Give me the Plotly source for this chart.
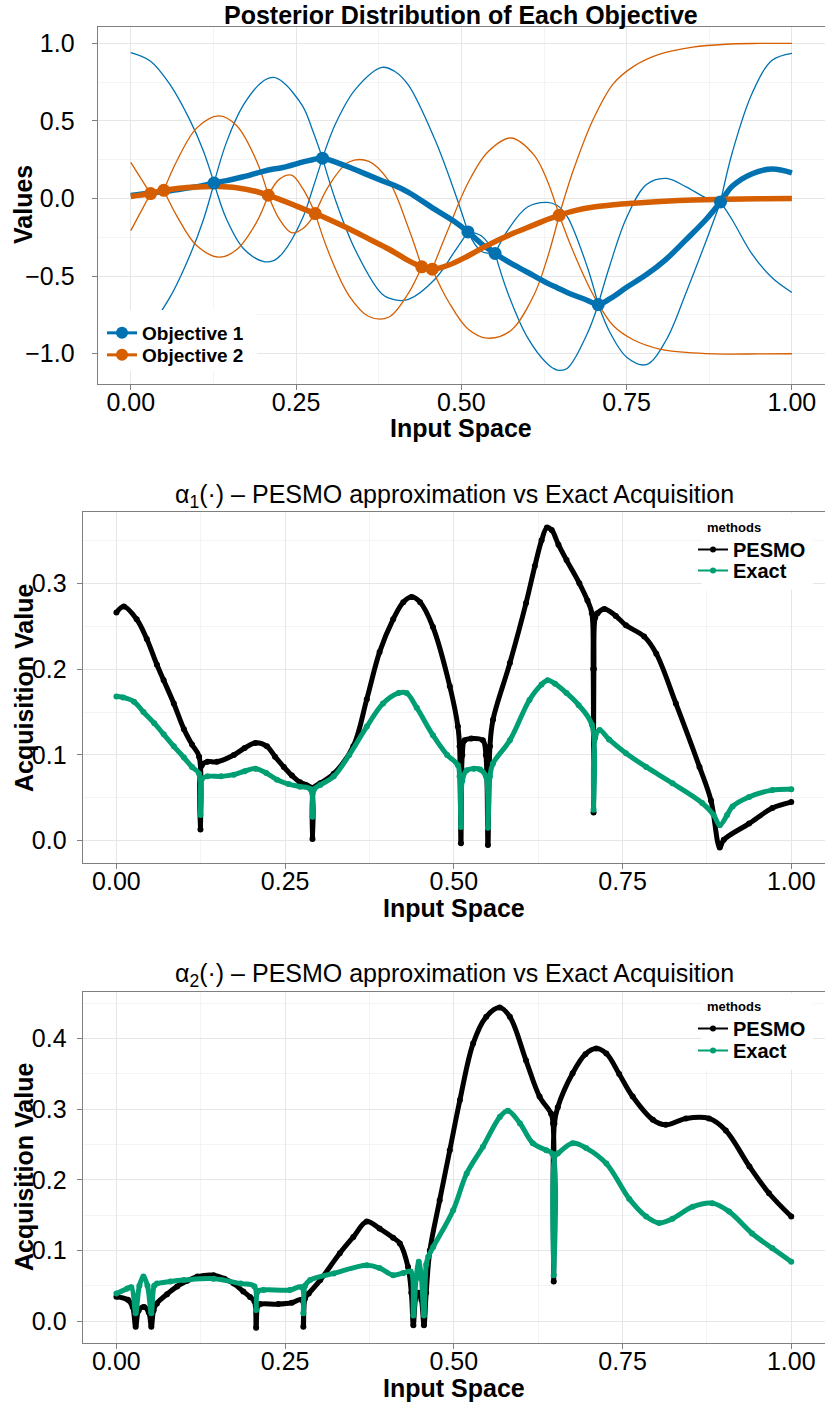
import plotly.graph_objects as go

# ---------------- DATA ----------------
# Panel 1: posterior mean and 2-sd half-width of each objective
obj1_x = [0.000, 0.030, 0.060, 0.090, 0.110, 0.126, 0.145, 0.170, 0.200, 0.216, 0.230, 0.260, 0.275, 0.290,
          0.310, 0.340, 0.380, 0.400, 0.420, 0.460, 0.490, 0.510, 0.530, 0.551, 0.570, 0.600, 0.630, 0.645,
          0.660, 0.690, 0.707, 0.725, 0.750, 0.780, 0.810, 0.840, 0.870, 0.892, 0.910, 0.940, 0.970, 1.000]
obj1_mean = [0.020, 0.035, 0.050, 0.070, 0.085, 0.100, 0.115, 0.140, 0.175, 0.190, 0.200, 0.235, 0.250, 0.260,
             0.235, 0.185, 0.115, 0.082, 0.040, -0.070, -0.150, -0.215, -0.290, -0.354, -0.405, -0.475, -0.545, -0.575,
             -0.605, -0.655, -0.683, -0.645, -0.572, -0.490, -0.390, -0.265, -0.135, -0.022, 0.080, 0.160, 0.190, 0.165]
obj1_width = [0.920, 0.850, 0.680, 0.430, 0.220, 0.000, 0.250, 0.460, 0.580, 0.590, 0.550, 0.360, 0.190, 0.000,
              0.250, 0.520, 0.730, 0.735, 0.690, 0.450, 0.190, 0.000, 0.050, 0.000, 0.200, 0.420, 0.520, 0.530,
              0.490, 0.220, 0.000, 0.220, 0.450, 0.580, 0.520, 0.340, 0.140, 0.000, 0.220, 0.520, 0.700, 0.770]

obj2_x = [0.000, 0.015, 0.030, 0.040, 0.050, 0.070, 0.100, 0.133, 0.160, 0.190, 0.208, 0.225, 0.243, 0.260,
          0.279, 0.300, 0.330, 0.360, 0.390, 0.420, 0.440, 0.448, 0.456, 0.480, 0.510, 0.540, 0.575, 0.610,
          0.630, 0.648, 0.670, 0.700, 0.730, 0.760, 0.800, 0.850, 0.900, 0.950, 1.000]
obj2_mean = [0.013, 0.022, 0.032, 0.043, 0.053, 0.065, 0.075, 0.077, 0.070, 0.045, 0.021, -0.005, -0.035, -0.065,
             -0.097, -0.135, -0.195, -0.260, -0.325, -0.400, -0.440, -0.450, -0.455, -0.430, -0.370, -0.300, -0.230, -0.170,
             -0.135, -0.108, -0.080, -0.055, -0.040, -0.030, -0.020, -0.010, -0.004, -0.001, 0.000]
obj2_width = [0.220, 0.110, 0.000, 0.012, 0.000, 0.180, 0.380, 0.455, 0.400, 0.200, 0.000, 0.130, 0.185, 0.130,
              0.000, 0.220, 0.430, 0.500, 0.440, 0.210, 0.000, 0.006, 0.000, 0.230, 0.470, 0.600, 0.620, 0.450,
              0.250, 0.000, 0.270, 0.570, 0.780, 0.880, 0.950, 0.985, 0.998, 1.000, 1.000]

obj1_obs_x = [0.126, 0.290, 0.510, 0.551, 0.707, 0.892]
obj1_obs_y = [0.100, 0.260, -0.215, -0.354, -0.683, -0.022]
obj2_obs_x = [0.030, 0.050, 0.208, 0.279, 0.440, 0.456, 0.648]
obj2_obs_y = [0.032, 0.053, 0.021, -0.097, -0.440, -0.455, -0.108]

# Panel 2: alpha_1 acquisition
a1_pesmo_x = [0.000, 0.011, 0.030, 0.045, 0.060, 0.070, 0.085, 0.100, 0.112, 0.1225,
              0.1245, 0.1265, 0.135, 0.149, 0.174, 0.190, 0.206, 0.223, 0.235, 0.248,
              0.260, 0.272, 0.2875, 0.2905, 0.293, 0.302, 0.322, 0.351, 0.371, 0.390,
              0.410, 0.425, 0.4375, 0.450, 0.469, 0.494, 0.506, 0.5085, 0.5105, 0.5125,
              0.516, 0.526, 0.543, 0.5475, 0.5505, 0.5535, 0.558, 0.583, 0.607, 0.620,
              0.630, 0.638, 0.645, 0.655, 0.667, 0.686, 0.698, 0.7045, 0.7065, 0.707,
              0.7075, 0.7095, 0.713, 0.723, 0.740, 0.755, 0.782, 0.800, 0.829, 0.864,
              0.881, 0.894, 0.900, 0.9375, 0.972, 1.000]
a1_pesmo = [0.266, 0.273, 0.258, 0.235, 0.205, 0.187, 0.160, 0.130, 0.112, 0.098,
            0.013, 0.088, 0.092, 0.092, 0.100, 0.108, 0.114, 0.110, 0.098, 0.086,
            0.076, 0.068, 0.062, 0.002, 0.062, 0.067, 0.078, 0.110, 0.165, 0.220,
            0.258, 0.278, 0.284, 0.278, 0.249, 0.180, 0.133, 0.110, -0.003, 0.100,
            0.117, 0.119, 0.117, 0.100, -0.005, 0.110, 0.141, 0.207, 0.277, 0.320,
            0.350, 0.365, 0.362, 0.345, 0.327, 0.300, 0.280, 0.265, 0.200, 0.033,
            0.200, 0.260, 0.265, 0.270, 0.262, 0.251, 0.238, 0.218, 0.160, 0.086,
            0.047, -0.008, 0.001, 0.020, 0.038, 0.045]
a1_exact_x = [0.000, 0.010, 0.026, 0.040, 0.056, 0.070, 0.085, 0.100, 0.112, 0.1225,
              0.1245, 0.1265, 0.135, 0.155, 0.174, 0.190, 0.206, 0.222, 0.238, 0.255,
              0.272, 0.2875, 0.2905, 0.293, 0.302, 0.322, 0.345, 0.371, 0.395, 0.418,
              0.430, 0.445, 0.469, 0.490, 0.506, 0.5085, 0.5105, 0.5125, 0.519, 0.530,
              0.539, 0.5475, 0.5505, 0.5535, 0.558, 0.583, 0.612, 0.630, 0.639, 0.650,
              0.667, 0.685, 0.7045, 0.707, 0.7095, 0.716, 0.730, 0.755, 0.785, 0.824,
              0.868, 0.885, 0.894, 0.905, 0.913, 0.9375, 0.972, 1.000]
a1_exact = [0.168, 0.167, 0.162, 0.150, 0.137, 0.124, 0.110, 0.097, 0.086, 0.078,
            0.030, 0.072, 0.075, 0.075, 0.077, 0.081, 0.084, 0.079, 0.071, 0.066,
            0.063, 0.060, 0.028, 0.060, 0.065, 0.075, 0.100, 0.133, 0.160, 0.172,
            0.172, 0.155, 0.123, 0.100, 0.088, 0.075, 0.016, 0.070, 0.082, 0.084,
            0.083, 0.075, 0.015, 0.075, 0.090, 0.117, 0.164, 0.182, 0.187, 0.183,
            0.172, 0.158, 0.135, 0.036, 0.120, 0.129, 0.118, 0.102, 0.086, 0.067,
            0.044, 0.030, 0.018, 0.030, 0.040, 0.051, 0.059, 0.060]

# Panel 3: alpha_2 acquisition
a2_pesmo_x = [0.000, 0.017, 0.024, 0.0285, 0.033, 0.041, 0.048, 0.0517, 0.055, 0.060,
              0.075, 0.090, 0.105, 0.120, 0.144, 0.160, 0.174, 0.188, 0.198, 0.2045,
              0.207, 0.2095, 0.213, 0.240, 0.260, 0.2745, 0.277, 0.2795, 0.285, 0.302,
              0.331, 0.351, 0.371, 0.390, 0.410, 0.420, 0.432, 0.437, 0.440, 0.444,
              0.448, 0.452, 0.4557, 0.459, 0.4645, 0.479, 0.494, 0.509, 0.5285, 0.548,
              0.568, 0.583, 0.607, 0.627, 0.644, 0.647, 0.648, 0.649, 0.654, 0.676,
              0.695, 0.711, 0.726, 0.745, 0.765, 0.795, 0.814, 0.844, 0.878, 0.903,
              0.938, 0.967, 1.000]
a2_pesmo = [0.0345, 0.030, 0.020, -0.008, 0.015, 0.020, 0.012, -0.008, 0.015, 0.025,
            0.038, 0.049, 0.057, 0.063, 0.065, 0.060, 0.053, 0.042, 0.034, 0.028,
            -0.0095, 0.022, 0.024, 0.024, 0.026, 0.030, -0.008, 0.032, 0.039, 0.058,
            0.096, 0.119, 0.141, 0.131, 0.118, 0.110, 0.077, 0.040, -0.006, 0.035,
            0.040, 0.030, -0.006, 0.040, 0.100, 0.171, 0.242, 0.313, 0.393, 0.431,
            0.444, 0.431, 0.369, 0.318, 0.294, 0.280, 0.056, 0.280, 0.303, 0.351,
            0.378, 0.386, 0.379, 0.350, 0.318, 0.285, 0.278, 0.287, 0.287, 0.270,
            0.219, 0.181, 0.148]
a2_exact_x = [0.000, 0.016, 0.022, 0.0285, 0.034, 0.040, 0.046, 0.0517, 0.056, 0.060,
              0.080, 0.100, 0.144, 0.184, 0.2045, 0.207, 0.2095, 0.218, 0.257, 0.2745,
              0.277, 0.2795, 0.287, 0.322, 0.371, 0.390, 0.410, 0.425, 0.436, 0.440,
              0.444, 0.448, 0.452, 0.4557, 0.459, 0.462, 0.4695, 0.499, 0.519, 0.543,
              0.568, 0.580, 0.598, 0.617, 0.637, 0.646, 0.648, 0.650, 0.654, 0.676,
              0.696, 0.726, 0.760, 0.785, 0.804, 0.824, 0.854, 0.883, 0.908, 0.942,
              0.972, 1.000]
a2_exact = [0.039, 0.046, 0.048, 0.011, 0.050, 0.063, 0.050, 0.011, 0.050, 0.053,
            0.056, 0.058, 0.060, 0.053, 0.049, 0.0156, 0.042, 0.044, 0.044, 0.048,
            0.011, 0.050, 0.058, 0.0675, 0.079, 0.075, 0.065, 0.068, 0.070, 0.008,
            0.060, 0.084, 0.060, 0.008, 0.080, 0.091, 0.105, 0.157, 0.209, 0.247,
            0.289, 0.298, 0.280, 0.252, 0.242, 0.237, 0.065, 0.235, 0.2375, 0.252,
            0.245, 0.223, 0.173, 0.148, 0.139, 0.145, 0.162, 0.167, 0.155, 0.124,
            0.103, 0.084]

x_ticks = [0.0, 0.25, 0.5, 0.75, 1.0]

# ---------------- STYLE ----------------
W, H = 825, 1405
FONT = "Liberation Sans, Arial, sans-serif"
BLUE, ORANGE, GREEN, BLACK = "#0072B2", "#D55E00", "#009E73", "#000000"


def py(p):
    return 1 - p / H


def band(xs, mean, width, sign):
    zero_idx = [i for i, w in enumerate(width) if w == 0]
    cuts = sorted(set([0] + zero_idx + [len(xs) - 1]))
    bx, by = [], []
    for a, b in zip(cuts[:-1], cuts[1:]):
        for i in range(a, b + 1):
            bx.append(xs[i])
            by.append(mean[i] + sign * width[i])
        bx.append(None)
        by.append(None)
    return bx, by


fig = go.Figure()

# Panel 1 thin bands
for xs, m, w, col in [(obj1_x, obj1_mean, obj1_width, BLUE), (obj2_x, obj2_mean, obj2_width, ORANGE)]:
    for s in (1, -1):
        bx, by = band(xs, m, w, s)
        fig.add_trace(go.Scatter(x=bx, y=by, mode="lines", line=dict(color=col, width=1.3, shape="spline"),
                                 connectgaps=False, showlegend=False, hoverinfo="skip", xaxis="x", yaxis="y"))
# thick means
fig.add_trace(go.Scatter(x=obj1_x, y=obj1_mean, mode="lines", line=dict(color=BLUE, width=5.5, shape="spline"),
                         showlegend=False, xaxis="x", yaxis="y"))
fig.add_trace(go.Scatter(x=obj2_x, y=obj2_mean, mode="lines", line=dict(color=ORANGE, width=5.5, shape="spline"),
                         showlegend=False, xaxis="x", yaxis="y"))
fig.add_trace(go.Scatter(x=obj2_obs_x, y=obj2_obs_y, mode="markers", marker=dict(color=ORANGE, size=13),
                         showlegend=False, xaxis="x", yaxis="y"))
fig.add_trace(go.Scatter(x=obj1_obs_x, y=obj1_obs_y, mode="markers", marker=dict(color=BLUE, size=13),
                         showlegend=False, xaxis="x", yaxis="y"))
# legend entries panel 1 (one legend box per entry for exact spacing)
for name, col, lg in [("Objective 1", BLUE, "legend"), ("Objective 2", ORANGE, "legend4")]:
    fig.add_trace(go.Scatter(x=[None], y=[None], mode="lines+markers", name=f"<b>{name}</b>",
                             line=dict(color=col, width=3), marker=dict(color=col, size=12),
                             legend=lg, xaxis="x", yaxis="y"))

# Panels 2 and 3
for (px_, p, ex_, e, xa, ya, lgs) in [(a1_pesmo_x, a1_pesmo, a1_exact_x, a1_exact, "x2", "y2", ("legend2", "legend5")),
                                      (a2_pesmo_x, a2_pesmo, a2_exact_x, a2_exact, "x3", "y3", ("legend3", "legend6"))]:
    for xs, ys, col in [(px_, p, BLACK), (ex_, e, GREEN)]:
        fig.add_trace(go.Scatter(x=xs, y=ys, mode="lines+markers",
                                 line=dict(color=col, width=5, shape="spline", smoothing=1),
                                 marker=dict(color=col, size=6), showlegend=False, xaxis=xa, yaxis=ya))
    for name, col, lg in [("PESMO", BLACK, lgs[0]), ("Exact", GREEN, lgs[1])]:
        fig.add_trace(go.Scatter(x=[None], y=[None], mode="lines+markers", name=f"<b>{name}</b>",
                                 line=dict(color=col, width=2), marker=dict(color=col, size=6),
                                 legend=lg, xaxis=xa, yaxis=ya))


def ax(**kw):
    d = dict(showline=True, mirror=True, linecolor="#7F7F7F", linewidth=1.2,
             ticks="outside", ticklen=5, tickwidth=1, tickcolor="#7F7F7F",
             showgrid=True, gridcolor="#E6E6E6", gridwidth=1.2, zeroline=False, automargin=False,
             tickfont=dict(size=25, color="black", family=FONT))
    d.update(kw)
    return d


xminor = dict(showgrid=True, gridcolor="#F4F4F4", gridwidth=1, dtick=0.125)
yminor_small = dict(showgrid=True, gridcolor="#F4F4F4", gridwidth=1, dtick=0.05)


def leg(xpx, center_px, size):
    return dict(x=xpx / W, y=py(center_px - 19), xanchor="left", yanchor="top", bgcolor="rgba(0,0,0,0)",
                font=dict(size=size, family=FONT, color="black"), tracegroupgap=0)


layout = dict(
    template="none",
    width=W, height=H, margin=dict(l=0, r=0, t=0, b=0, autoexpand=False),
    paper_bgcolor="white", plot_bgcolor="white",
    font=dict(family=FONT, color="black"),
    xaxis=ax(domain=[97.7 / W, 1], anchor="y", range=[-0.05, 1.05], tickvals=x_ticks, tickformat=".2f",
             minor=xminor, ticklabelstandoff=-9),
    yaxis=ax(domain=[py(383.7), py(27)], anchor="x", range=[-1.193, 1.105], dtick=0.5, tick0=0,
             tickformat=".1f", minor=dict(showgrid=True, gridcolor="#F4F4F4", gridwidth=1, dtick=0.25),
             ticklabelstandoff=12),
    xaxis2=ax(domain=[82.7 / W, 1], anchor="y2", range=[-0.05, 1.05], tickvals=x_ticks, tickformat=".2f",
              minor=xminor, ticklabelstandoff=-9),
    yaxis2=ax(domain=[py(863.3), py(512.3)], anchor="x2", range=[-0.0263, 0.3827], dtick=0.1, tick0=0,
              tickformat=".1f", minor=yminor_small, ticklabelstandoff=5),
    xaxis3=ax(domain=[82.7 / W, 1], anchor="y3", range=[-0.05, 1.05], tickvals=x_ticks, tickformat=".2f",
              minor=xminor, ticklabelstandoff=-9),
    yaxis3=ax(domain=[py(1342.7), py(992.3)], anchor="x3", range=[-0.0307, 0.4657], dtick=0.1, tick0=0,
              tickformat=".1f", minor=yminor_small, ticklabelstandoff=5),
    legend=leg(102, 333, 19),
    legend4=leg(102, 355, 19),
    legend2=leg(693, 549, 20),
    legend5=leg(693, 570, 20),
    legend3=leg(693, 1028, 20),
    legend6=leg(693, 1050, 20),
)

# white legend background boxes (drawn above the data, below the legend text)
shapes = []
for x0, y0, x1, y1 in [(99, 310, 257, 371), (702, 513.5, 813, 590), (702, 993.5, 813, 1070)]:
    shapes.append(dict(type="rect", xref="paper", yref="paper", x0=x0 / W, x1=x1 / W, y0=py(y1), y1=py(y0),
                       fillcolor="white", line=dict(width=0), layer="above"))
layout["shapes"] = shapes

ann = []


def text(t, xpx, ypx, size=25, angle=0, xanchor="center"):
    ann.append(dict(text=t, x=xpx / W, y=py(ypx), xref="paper", yref="paper", showarrow=False,
                    xanchor=xanchor, yanchor="middle", textangle=angle,
                    font=dict(size=size, family=FONT, color="black")))


text("<b>Posterior Distribution of Each Objective</b>", 461, 15)
text("<b>Input Space</b>", 461, 428)
text("<b>Values</b>", 23, 205, angle=-90)
text("α<sub>1</sub>(·) – PESMO approximation vs Exact Acquisition", 454, 496)
text("<b>Input Space</b>", 454, 908)
text("<b>Acquisition Value</b>", 24, 688, angle=-90)
text("<b>methods</b>", 705, 527, size=13, xanchor="left")
text("α<sub>2</sub>(·) – PESMO approximation vs Exact Acquisition", 454, 975)
text("<b>Input Space</b>", 454, 1388)
text("<b>Acquisition Value</b>", 24, 1167, angle=-90)
text("<b>methods</b>", 705, 1006, size=13, xanchor="left")

layout["annotations"] = ann
fig.update_layout(**layout)
fig.write_html("out.html", config={"displayModeBar": False},
               post_script="document.body.style.margin='0px';document.body.style.padding='0px';")
